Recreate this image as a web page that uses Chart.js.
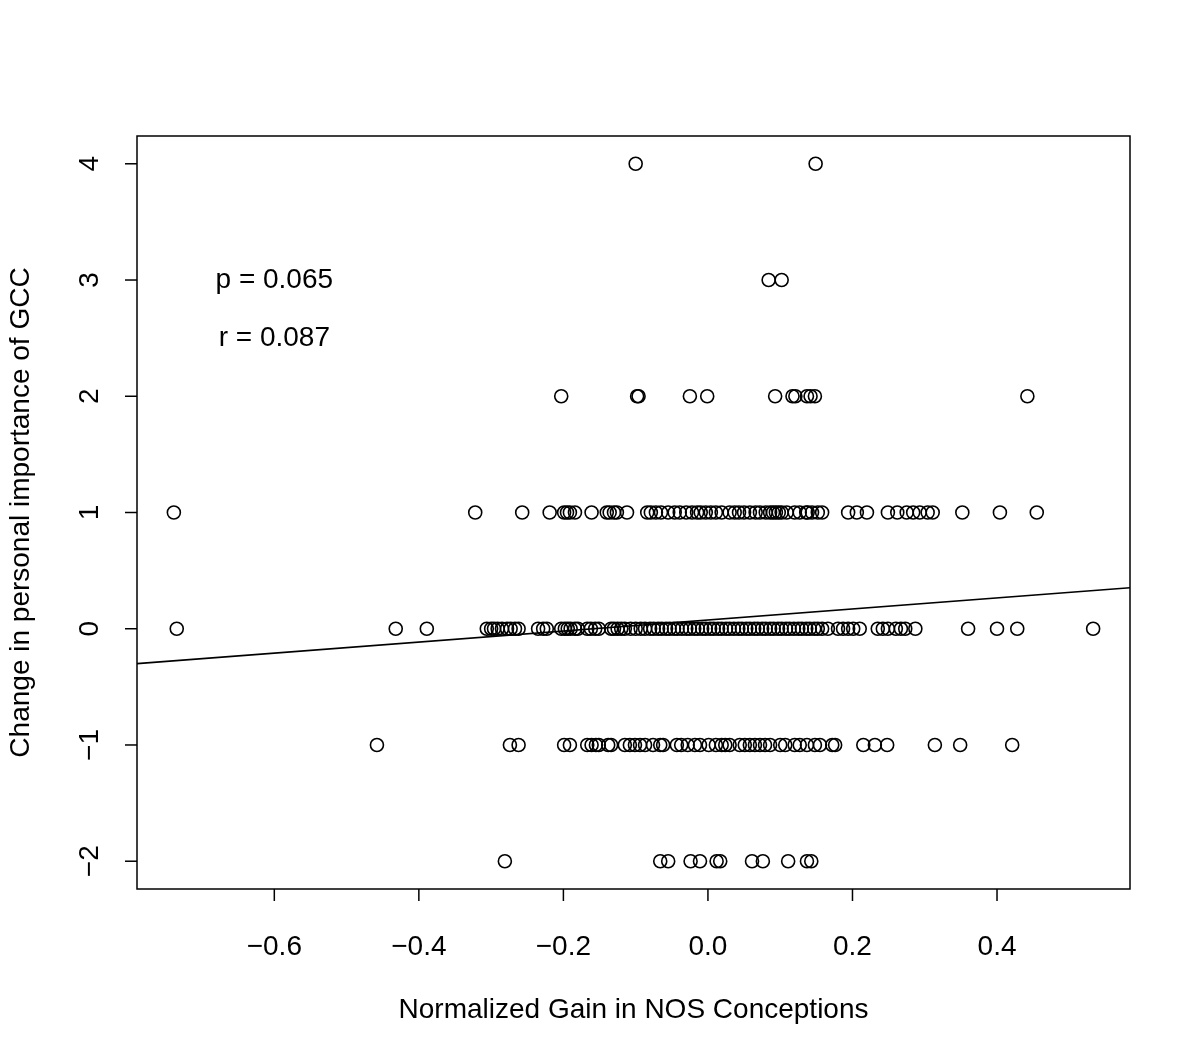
<!doctype html>
<html lang="en">
<head>
  <meta charset="utf-8" />
  <title>NOS gain vs GCC importance</title>
  <style>
    html, body { margin: 0; padding: 0; background: #fff; }
  </style>
</head>
<body>
  <canvas id="lienzo" width="1200" height="1061"></canvas>
  <script src="https://cdn.jsdelivr.net/npm/chart.js"></script>
  <script>
    // x values (normalized gain) of the points on each y level
    const gainAt4 = [-0.100, 0.149];
    const gainAt3 = [0.084, 0.102];
    const gainAt2 = [-0.203, -0.098, -0.096, -0.025, -0.001, 0.093, 0.117, 0.121, 0.137, 0.142, 0.148, 0.442];
    const gainAt1 = [-0.739, -0.322, -0.257, -0.219, -0.199, -0.195, -0.191, -0.184, -0.161, -0.140, -0.136, -0.130,
      -0.126, -0.112, -0.084, -0.079, -0.072, -0.065, -0.055, -0.046, -0.039, -0.030, -0.022, -0.015, -0.010, -0.003,
      0.004, 0.011, 0.019, 0.030, 0.037, 0.043, 0.050, 0.058, 0.066, 0.072, 0.080, 0.086, 0.090, 0.094, 0.098, 0.102,
      0.109, 0.120, 0.127, 0.136, 0.138, 0.144, 0.152, 0.158, 0.194, 0.206, 0.220, 0.249, 0.262, 0.275, 0.284, 0.293,
      0.304, 0.311, 0.352, 0.404, 0.455];
    const gainAt0 = [-0.735, -0.432, -0.389, -0.306, -0.300, -0.296, -0.291, -0.285, -0.278, -0.273, -0.267, -0.262,
      -0.235, -0.228, -0.223, -0.203, -0.198, -0.194, -0.190, -0.184, -0.180, -0.167, -0.162, -0.156, -0.151, -0.134,
      -0.130, -0.125, -0.120, -0.115, -0.107, -0.100, -0.093, -0.087, -0.080, -0.075, -0.069, -0.064, -0.058, -0.053,
      -0.047, -0.042, -0.036, -0.030, -0.025, -0.019, -0.014, -0.008, -0.003, 0.003, 0.008, 0.014, 0.019, 0.025, 0.030,
      0.036, 0.042, 0.047, 0.053, 0.058, 0.064, 0.069, 0.075, 0.080, 0.086, 0.091, 0.097, 0.102, 0.108, 0.113, 0.119,
      0.125, 0.130, 0.136, 0.141, 0.147, 0.152, 0.158, 0.166, 0.180, 0.187, 0.194, 0.201, 0.210, 0.235, 0.242, 0.249,
      0.260, 0.267, 0.273, 0.287, 0.360, 0.400, 0.428, 0.533];
    const gainAtM1 = [-0.458, -0.274, -0.262, -0.199, -0.191, -0.167, -0.161, -0.155, -0.151, -0.138, -0.134, -0.115,
      -0.108, -0.101, -0.094, -0.087, -0.076, -0.066, -0.062, -0.043, -0.037, -0.028, -0.018, -0.011, 0.001, 0.011,
      0.019, 0.024, 0.030, 0.044, 0.051, 0.058, 0.065, 0.072, 0.079, 0.086, 0.100, 0.107, 0.120, 0.127, 0.137, 0.148,
      0.155, 0.172, 0.176, 0.215, 0.231, 0.248, 0.314, 0.349, 0.421];
    const gainAtM2 = [-0.281, -0.066, -0.055, -0.024, -0.011, 0.012, 0.017, 0.061, 0.076, 0.111, 0.137, 0.143];

    const levels = [4, 3, 2, 1, 0, -1, -2];
    const gainRows = [gainAt4, gainAt3, gainAt2, gainAt1, gainAt0, gainAtM1, gainAtM2];

    // fitted line, read at the plot edges
    const fitX = [-0.79, 0.584];
    const fitY = [-0.30, 0.353];

    const xTicks = [-0.6, -0.4, -0.2, 0.0, 0.2, 0.4];
    const yTicks = [-2, -1, 0, 1, 2, 3, 4];
    const notes = [
      { x: -0.6, y: 3.0, text: 'p = 0.065' },
      { x: -0.6, y: 2.5, text: 'r = 0.087' }
    ];
    const xTitle = 'Normalized Gain in NOS Conceptions';
    const yTitle = 'Change in personal importance of GCC';

    const fuente = '28px "Liberation Sans", Arial, sans-serif';

    function etiqueta(v, dec) {
      const s = Math.abs(v).toFixed(dec);
      return v < 0 ? '\u2212' + s : s;
    }

    const puntos = [];
    gainRows.forEach((row, i) => {
      row.forEach(g => puntos.push({ x: g, y: levels[i] }));
    });

    const marcoR = {
      id: 'marcoR',
      afterDatasetsDraw(chart) {
        const ctx = chart.ctx;
        const a = chart.chartArea;
        const sx = chart.scales.x;
        const sy = chart.scales.y;
        ctx.save();
        ctx.strokeStyle = '#000';
        ctx.fillStyle = '#000';
        ctx.lineWidth = 1.5;
        ctx.strokeRect(a.left, a.top, a.right - a.left, a.bottom - a.top);
        ctx.font = fuente;

        // x axis
        ctx.textAlign = 'center';
        ctx.textBaseline = 'middle';
        xTicks.forEach(v => {
          const px = sx.getPixelForValue(v);
          ctx.beginPath();
          ctx.moveTo(px, a.bottom);
          ctx.lineTo(px, a.bottom + 12);
          ctx.stroke();
          ctx.fillText(etiqueta(v, 1), px, a.bottom + 58);
        });
        ctx.fillText(xTitle, (a.left + a.right) / 2, 1010);

        // y axis, labels turned like R does
        yTicks.forEach(v => {
          const py = sy.getPixelForValue(v);
          ctx.beginPath();
          ctx.moveTo(a.left, py);
          ctx.lineTo(a.left - 12, py);
          ctx.stroke();
          ctx.save();
          ctx.translate(a.left - 47, py);
          ctx.rotate(-Math.PI / 2);
          ctx.fillText(etiqueta(v, 0), 0, 0);
          ctx.restore();
        });
        ctx.save();
        ctx.translate(21, (a.top + a.bottom) / 2);
        ctx.rotate(-Math.PI / 2);
        ctx.fillText(yTitle, 0, 0);
        ctx.restore();

        notes.forEach(n => {
          ctx.fillText(n.text, sx.getPixelForValue(n.x), sy.getPixelForValue(n.y));
        });
        ctx.restore();
      }
    };

    new Chart(document.querySelector('#lienzo'), {
      type: 'scatter',
      data: {
        datasets: [
          {
            label: 'gain',
            data: puntos,
            pointStyle: 'circle',
            pointRadius: 6.5,
            pointBorderWidth: 1.6,
            borderColor: '#000',
            backgroundColor: 'rgba(0,0,0,0)'
          },
          {
            type: 'line',
            label: 'fit',
            data: fitX.map((x, i) => ({ x: x, y: fitY[i] })),
            borderColor: '#000',
            borderWidth: 1.6,
            pointRadius: 0,
            fill: false
          }
        ]
      },
      options: {
        responsive: false,
        devicePixelRatio: 1,
        animation: false,
        layout: { padding: { left: 137, top: 136, right: 70, bottom: 172 } },
        plugins: { legend: { display: false }, tooltip: { enabled: false } },
        scales: {
          x: { type: 'linear', min: -0.79, max: 0.584, display: false },
          y: { type: 'linear', min: -2.239, max: 4.239, display: false }
        }
      },
      plugins: [marcoR]
    });
  </script>
</body>
</html>
